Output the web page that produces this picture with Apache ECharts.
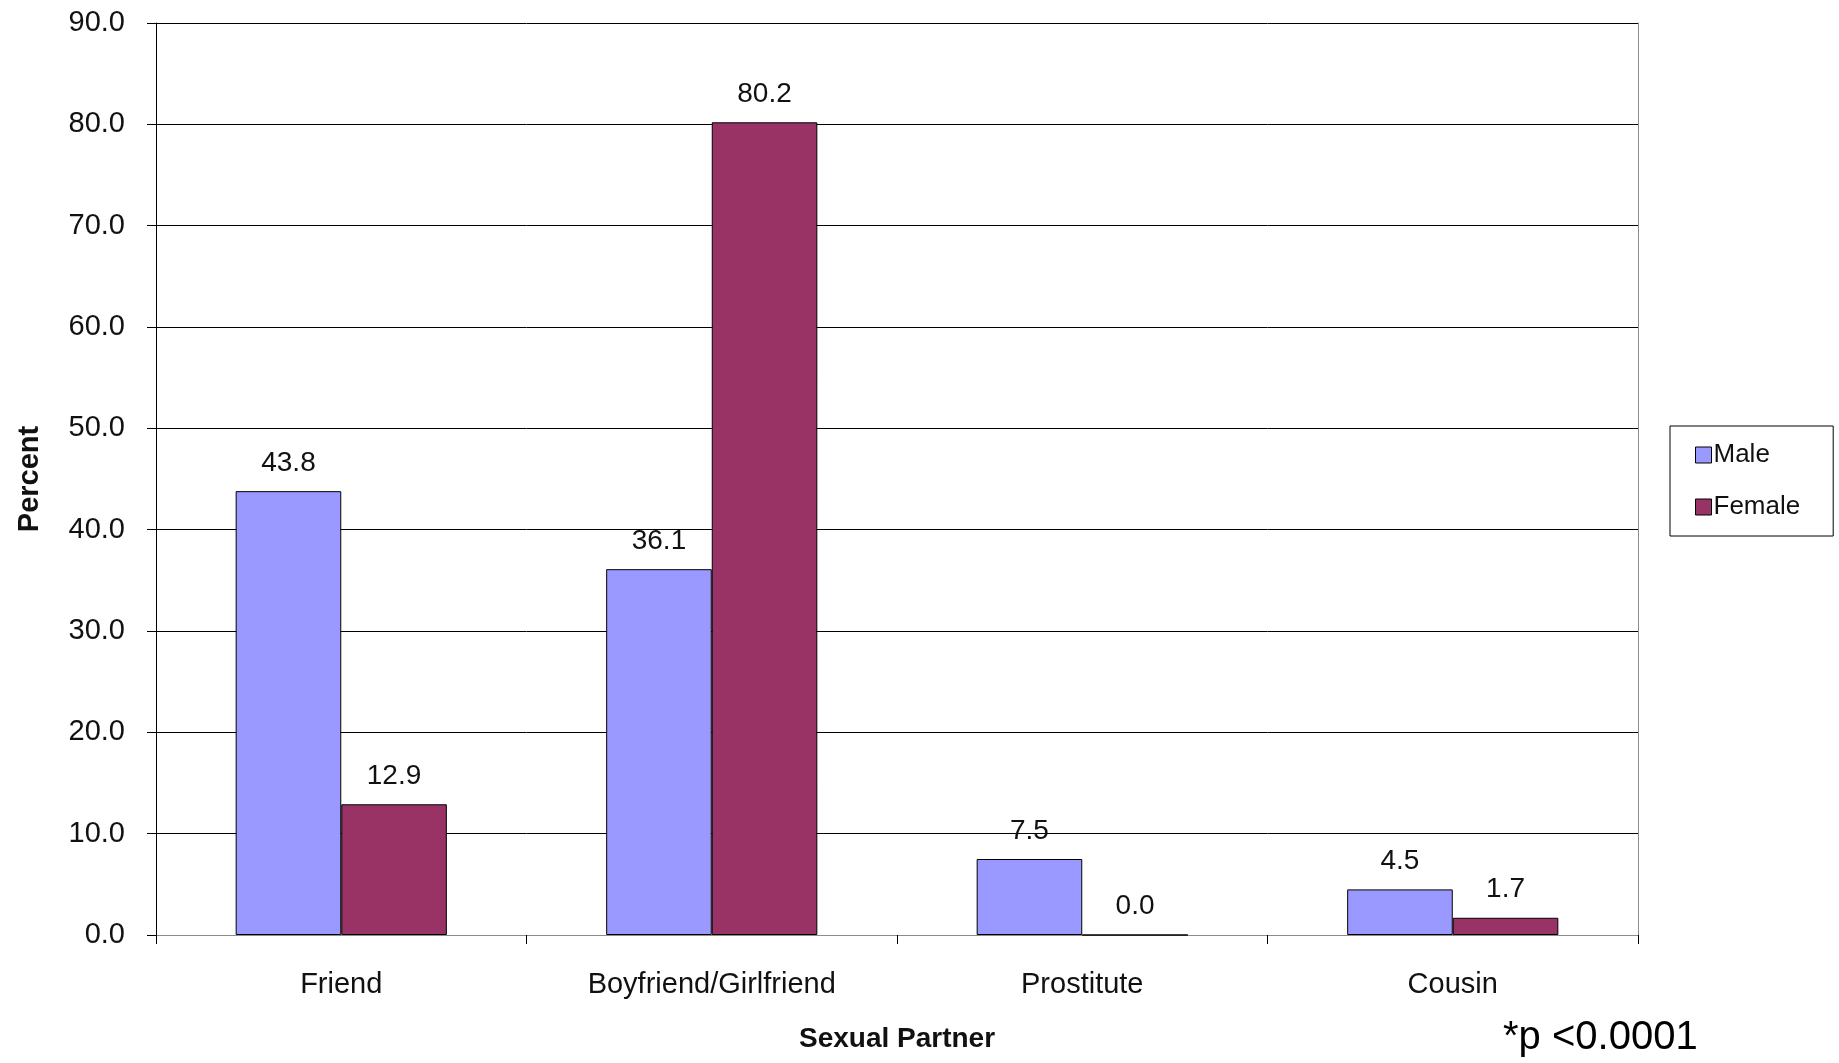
<!DOCTYPE html>
<html>
<head>
<meta charset="utf-8">
<script src="https://cdn.jsdelivr.net/npm/echarts@6/dist/echarts.min.js"></script>
<style>
html,body{margin:0;padding:0;background:#fff;}
#chart{width:1839px;height:1063px;}
</style>
</head>
<body>
<div id="chart"></div>
<script>
const categories = ['Friend', 'Boyfriend/Girlfriend', 'Prostitute', 'Cousin'];
const seriesNames = ['Male', 'Female'];
const maleValues = [43.8, 36.1, 7.5, 4.5];
const femaleValues = [12.9, 80.2, 0.0, 1.7];
const yMin = 0, yMax = 90, yInterval = 10;
const xAxisTitle = 'Sexual Partner';
const yAxisTitle = 'Percent';
const noteText = '*p <0.0001';

const FONT = '"Liberation Sans", Arial, sans-serif';
const chart = echarts.init(document.getElementById('chart'));
const labelCfg = {
  show: true, position: 'top', distance: 14,
  color: '#111', fontSize: 28, fontFamily: FONT,
  formatter: p => Number(p.value).toFixed(1)
};
chart.setOption({
  animation: false,
  backgroundColor: '#fff',
  grid: { left: 156, right: 201, top: 23, bottom: 128, containLabel: false },
  legend: {
    orient: 'vertical', left: 1670, top: 426,
    padding: [16, 33, 16, 25], itemGap: 26,
    itemWidth: 16, itemHeight: 16,
    borderColor: '#000', borderWidth: 1,
    icon: 'rect',
    itemStyle: { borderColor: '#000', borderWidth: 1 },
    textStyle: { fontSize: 26, fontFamily: FONT, color: '#111', padding: [0, 0, 0, -3] },
    data: seriesNames
  },
  xAxis: [{
    type: 'category', data: categories, position: 'bottom',
    axisLine: { lineStyle: { color: '#000', width: 1 } },
    axisTick: { show: true, length: 9, lineStyle: { color: '#000' } },
    axisLabel: { margin: 35, fontSize: 29, fontFamily: FONT, color: '#111' },
    name: xAxisTitle, nameLocation: 'middle', nameGap: 90,
    nameTextStyle: { fontSize: 28, fontWeight: 'bold', fontFamily: FONT, color: '#111' }
  }, {
    type: 'category', data: categories, position: 'top',
    axisLine: { show: true, lineStyle: { color: '#8c8c8c', width: 1 } },
    axisTick: { show: false }, axisLabel: { show: false }
  }],
  yAxis: [{
    type: 'value', min: yMin, max: yMax, interval: yInterval,
    axisLine: { show: true, lineStyle: { color: '#000', width: 1 } },
    axisTick: { show: true, length: 9, lineStyle: { color: '#000' } },
    axisLabel: { margin: 31, fontSize: 29, fontFamily: FONT, color: '#111',
      formatter: v => v.toFixed(1) },
    splitLine: { show: true, lineStyle: { color: '#000', width: 1 } },
    name: yAxisTitle, nameLocation: 'middle', nameGap: 112,
    nameTextStyle: { fontSize: 29, fontWeight: 'bold', fontFamily: FONT, color: '#111' }
  }, {
    type: 'value', min: yMin, max: yMax, interval: yInterval, position: 'right',
    axisLine: { show: true, lineStyle: { color: '#8c8c8c', width: 1 } },
    axisTick: { show: false }, axisLabel: { show: false }, splitLine: { show: false }
  }],
  series: [{
    name: seriesNames[0], type: 'bar', data: maleValues,
    barGap: '0%', barCategoryGap: '43%',
    itemStyle: { color: '#9999FF', borderColor: '#000', borderWidth: 1 },
    label: labelCfg
  }, {
    name: seriesNames[1], type: 'bar', data: femaleValues,
    barGap: '0%', barCategoryGap: '43%',
    itemStyle: { color: '#993366', borderColor: '#000', borderWidth: 1 },
    label: labelCfg
  }],
  graphic: [{
    type: 'text', left: 1503, top: 1018,
    style: { text: noteText, fontSize: 40, fontFamily: FONT, fill: '#000' }
  }]
});
</script>
</body>
</html>
